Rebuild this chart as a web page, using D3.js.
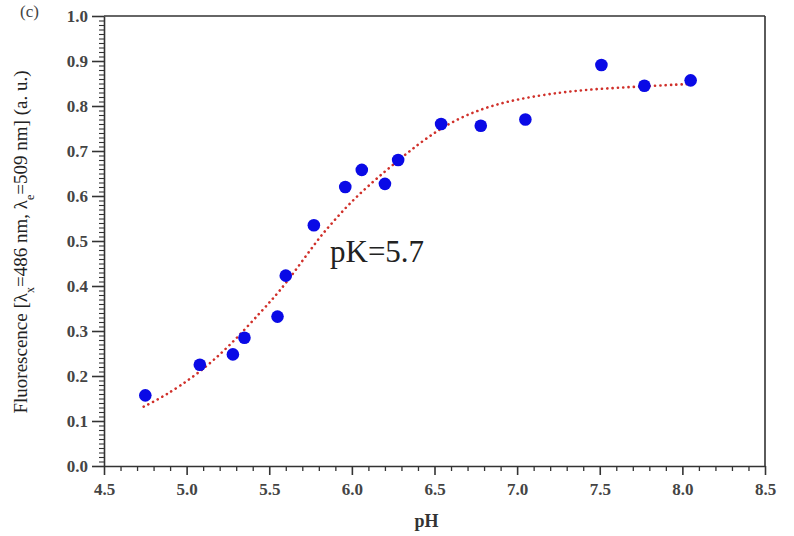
<!DOCTYPE html>
<html>
<head>
<meta charset="utf-8">
<script src="https://cdn.jsdelivr.net/npm/d3@7"></script>
<style>
  body { margin: 0; background: #fff; }
  svg { display: block; }
</style>
</head>
<body>
<div id="chart"></div>
<script>
// measured points
const phValues = [4.75, 5.08, 5.28, 5.35, 5.55, 5.60, 5.77, 5.96, 6.06, 6.20, 6.28, 6.54, 6.78, 7.05, 7.51, 7.77, 8.05];
const fluorValues = [0.157, 0.225, 0.248, 0.285, 0.332, 0.423, 0.535, 0.620, 0.658, 0.627, 0.680, 0.760, 0.756, 0.770, 0.891, 0.845, 0.857];

// fitted curve
const fitPh = [4.74, 4.86, 5.06, 5.26, 5.46, 5.59, 5.79, 5.87, 6.02, 6.28, 6.53, 6.78, 7.02, 7.26, 7.44, 7.77, 8.05];
const fitValues = [0.132, 0.154, 0.202, 0.266, 0.347, 0.399, 0.502, 0.536, 0.598, 0.680, 0.752, 0.795, 0.817, 0.830, 0.837, 0.844, 0.849];

const xTicks = [4.5, 5.0, 5.5, 6.0, 6.5, 7.0, 7.5, 8.0, 8.5];
const yTicks = [0.0, 0.1, 0.2, 0.3, 0.4, 0.5, 0.6, 0.7, 0.8, 0.9, 1.0];

const width = 794, height = 536;
const margin = { top: 16, right: 29, bottom: 70, left: 104 };

const svg = d3.select("#chart")
  .append("svg")
  .attr("width", width)
  .attr("height", height);

const x = d3.scaleLinear().domain([4.5, 8.5]).range([margin.left, width - margin.right]);
const y = d3.scaleLinear().domain([0, 1]).range([height - margin.bottom, margin.top]);

const tickFont = "'Liberation Serif', 'DejaVu Serif', serif";
const axisColor = "#333";

// minor ticks
const xMinor = d3.range(45, 86).map(d => d / 10).filter(d => Math.abs(d * 2 - Math.round(d * 2)) > 1e-6);
const yMinor = d3.range(0, 101).map(d => d / 100).filter(d => Math.abs(d * 10 - Math.round(d * 10)) > 1e-6);

svg.append("g")
  .attr("transform", `translate(0,${y(0)})`)
  .call(d3.axisBottom(x).tickValues(xTicks).tickFormat(d3.format(".1f")).tickSize(9).tickSizeOuter(0))
  .call(g => g.select(".domain").attr("stroke", axisColor).attr("stroke-width", 1.6))
  .call(g => g.selectAll(".tick line").attr("stroke", axisColor).attr("stroke-width", 1.6))
  .call(g => g.selectAll(".tick text")
    .attr("dy", "1.0em")
    .attr("font-family", tickFont)
    .attr("font-size", 17)
    .attr("font-weight", "bold")
    .attr("fill", "#444"));

svg.append("g")
  .attr("transform", `translate(0,${y(0)})`)
  .call(d3.axisBottom(x).tickValues(xMinor).tickFormat("").tickSize(5).tickSizeOuter(0))
  .call(g => g.select(".domain").remove())
  .call(g => g.selectAll(".tick line").attr("stroke", axisColor).attr("stroke-width", 1.3));

svg.append("g")
  .attr("transform", `translate(${x(4.5)},0)`)
  .call(d3.axisLeft(y).tickValues(yTicks).tickFormat(d3.format(".1f")).tickSize(12).tickSizeOuter(0))
  .call(g => g.select(".domain").attr("stroke", axisColor).attr("stroke-width", 1.6))
  .call(g => g.selectAll(".tick line").attr("stroke", axisColor).attr("stroke-width", 1.6))
  .call(g => g.selectAll(".tick text")
    .attr("x", -16)
    .attr("font-family", tickFont)
    .attr("font-size", 17)
    .attr("font-weight", "bold")
    .attr("fill", "#444"));

svg.append("g")
  .attr("transform", `translate(${x(4.5)},0)`)
  .call(d3.axisLeft(y).tickValues(yMinor).tickFormat("").tickSize(5).tickSizeOuter(0))
  .call(g => g.select(".domain").remove())
  .call(g => g.selectAll(".tick line").attr("stroke", axisColor).attr("stroke-width", 1.1));

// frame top and right
svg.append("line")
  .attr("x1", x(4.5)).attr("x2", x(8.5))
  .attr("y1", y(1)).attr("y2", y(1))
  .attr("stroke", axisColor).attr("stroke-width", 1.6);
svg.append("line")
  .attr("x1", x(8.5)).attr("x2", x(8.5))
  .attr("y1", y(1)).attr("y2", y(0))
  .attr("stroke", axisColor).attr("stroke-width", 1.6);

// axis titles
svg.append("text")
  .attr("x", x(6.5) - 8)
  .attr("y", 527)
  .attr("text-anchor", "middle")
  .attr("font-family", tickFont)
  .attr("font-size", 18)
  .attr("font-weight", "bold")
  .attr("fill", "#333")
  .text("pH");

const yTitle = svg.append("text")
  .attr("transform", "translate(27,242) rotate(-90)")
  .attr("text-anchor", "middle")
  .attr("font-family", tickFont)
  .attr("font-size", 19)
  .attr("fill", "#222");
yTitle.append("tspan").text("Fluorescence [λ");
yTitle.append("tspan").attr("baseline-shift", "sub").attr("font-size", 12).text("x");
yTitle.append("tspan").text("=486 nm, λ");
yTitle.append("tspan").attr("baseline-shift", "sub").attr("font-size", 12).text("e");
yTitle.append("tspan").text("=509 nm]  (a. u.)");

// panel letter
svg.append("text")
  .attr("x", 20)
  .attr("y", 17)
  .attr("font-family", tickFont)
  .attr("font-size", 17)
  .attr("fill", "#444")
  .text("(c)");

// fit curve
const fit = fitPh.map((d, i) => [d, fitValues[i]]);
svg.append("path")
  .datum(fit)
  .attr("fill", "none")
  .attr("stroke", "#d0302a")
  .attr("stroke-width", 2.6)
  .attr("stroke-linecap", "round")
  .attr("stroke-dasharray", "0.1,5.2")
  .attr("d", d3.line().x(d => x(d[0])).y(d => y(d[1])).curve(d3.curveBasis));

// data points
svg.selectAll("circle.pt")
  .data(phValues.map((d, i) => [d, fluorValues[i]]))
  .enter()
  .append("circle")
  .attr("class", "pt")
  .attr("cx", d => x(d[0]))
  .attr("cy", d => y(d[1]))
  .attr("r", 6.3)
  .attr("fill", "#0a0ae6");

svg.append("text")
  .attr("x", 330)
  .attr("y", 262)
  .attr("font-family", tickFont)
  .attr("font-size", 31)
  .attr("fill", "#222")
  .text("pK=5.7");
</script>
</body>
</html>
